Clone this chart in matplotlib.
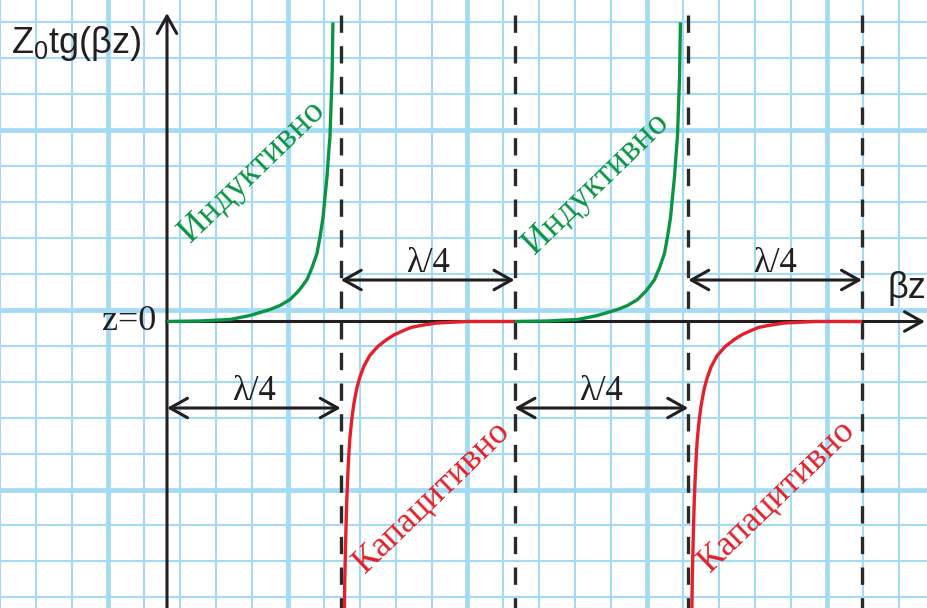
import matplotlib.pyplot as plt

# ---- data: βz in units of λ/4, values in grid cells ----
quarter_marks = [1, 2, 3, 4]          # dashed guide lines at multiples of λ/4
period_starts = [0, 2]                # each period of tg(βz) spans λ/2
ind_t = [0.0, 0.190, 0.363, 0.420, 0.478, 0.535, 0.593, 0.650, 0.708, 0.754, 0.777,
         0.806, 0.835, 0.863, 0.881, 0.898, 0.909, 0.921, 0.929, 0.938, 0.944, 0.950, 0.955]
ind_v = [0.0, 0.014, 0.056, 0.111, 0.167, 0.250, 0.333, 0.444, 0.611, 0.833, 0.972,
         1.167, 1.500, 1.889, 2.361, 2.889, 3.444, 4.028, 4.583, 5.139, 5.972, 6.806, 8.306]
cap_t = [1.0201, 1.0230, 1.0288, 1.0345, 1.0403, 1.0460, 1.0518, 1.0633, 1.0748, 1.0921,
         1.1094, 1.1324, 1.1669, 1.2129, 1.2647, 1.3108, 1.3626, 1.4029, 1.4604, 1.5525,
         1.7252, 2.0]
cap_v = [-8.333, -7.222, -5.972, -5.0, -4.306, -3.75, -3.278, -2.722, -2.306, -1.861,
         -1.556, -1.25, -0.944, -0.694, -0.5, -0.361, -0.25, -0.167, -0.111, -0.042,
         0.0, 0.0]
low_spans = [(0, 1), (2, 3)]
high_spans = [(1, 2), (3, 4)]
span_label = "λ/4"
y_label = "Z$_0$tg(βz)"
x_label = "βz"
origin_label = "z=0"
ind_label = "Индуктивно"
cap_label = "Капацитивно"

# ---- styling ----
W, H = 927, 608
X0, Y0 = 167.0, 321.5        # origin in pixels
UX, UY = 173.75, 36.0        # pixels per λ/4 and per grid cell
INK = "#231f20"
GREEN = "#0b9444"
RED = "#e4202a"
PAPER = "#a3daf4"

plt.rcParams["mathtext.fontset"] = "custom"
plt.rcParams["mathtext.rm"] = "Liberation Sans"
plt.rcParams["mathtext.it"] = "Liberation Sans"

fig = plt.figure(figsize=(W / 100, H / 100), dpi=100)

# graph paper
bg = fig.add_axes([0, 0, 1, 1])
bg.set_xlim(0, W)
bg.set_ylim(H, 0)
bg.axis("off")
step = 35.95
for k in range(-4, 26):
    x = 108 + k * step
    if -6 < x < W + 6:
        bg.axvline(x, color=PAPER, lw=3.4 if k % 5 == 0 else 1.5, zorder=0)
    y = 130 + k * step
    if -6 < y < H + 6:
        bg.axhline(y, color=PAPER, lw=3.4 if k % 5 == 0 else 1.5, zorder=0)

# main drawing axes
ax = fig.add_axes([0, 0, 1, 1])
ax.patch.set_alpha(0)
ax.axis("off")
ax.set_xlim(-X0 / UX, (W - X0) / UX)
ax.set_ylim(-(H - Y0) / UY, Y0 / UY)
ymin, ymax = ax.get_ylim()

head = "head_length=1.25,head_width=0.7"
# axes with arrow heads
ax.annotate("", xy=((925 - X0) / UX, 0), xytext=(0, 0),
            arrowprops=dict(arrowstyle="->," + head, mutation_scale=10, lw=2.2,
                            color=INK, shrinkA=0, shrinkB=0), zorder=2)
ax.annotate("", xy=(0, (Y0 - 13) / UY), xytext=(0, ymin - 0.2),
            arrowprops=dict(arrowstyle="->," + head, mutation_scale=10, lw=2.2,
                            color=INK, shrinkA=0, shrinkB=0), zorder=2)

# dashed guides
top_dash = (Y0 - 15) / UY
for q in quarter_marks:
    ax.plot([q, q], [top_dash, ymin - 0.2], color="#2a2a2a", lw=2.4,
            dashes=(5.2, 4.0), solid_capstyle="butt", dash_capstyle="butt", zorder=3)

# branches of tg(βz)
for p in period_starts:
    ax.plot([p + t for t in ind_t], ind_v, color=GREEN, lw=2.4, zorder=4,
            solid_capstyle="butt", solid_joinstyle="round")
    ax.plot([p + t for t in cap_t], cap_v, color=RED, lw=2.4, zorder=4,
            solid_capstyle="butt", solid_joinstyle="round")

# λ/4 dimension arrows
def dim_arrow(a, b, v):
    ax.annotate("", xy=(b, v), xytext=(a, v),
                arrowprops=dict(arrowstyle="<->," + head, mutation_scale=10, lw=2.2,
                                color=INK, shrinkA=0, shrinkB=0), zorder=3)
    ax.annotate(span_label, xy=((a + b) / 2, v), xytext=(0, 6), textcoords="offset points",
                ha="center", va="baseline", fontsize=25, family="Liberation Serif",
                color=INK, zorder=5)

for a, b in low_spans:
    dim_arrow(a, b, (Y0 - 408) / UY)
for a, b in high_spans:
    dim_arrow(a, b, (Y0 - 280) / UY)

# axis labels
bg.text(11, 53, y_label, fontsize=26, family="Liberation Sans", color=INK,
        ha="left", va="baseline")
bg.text(888, 298, x_label, fontsize=26, family="Liberation Sans", color=INK,
        ha="left", va="baseline")
bg.text(156, Y0, origin_label, fontsize=26, family="Liberation Serif", color=INK,
        ha="right", va="center")

# region labels
for cx, cy in [(252, 172), (596, 184)]:
    bg.text(cx, cy, ind_label, fontsize=26, family="Liberation Serif", color=GREEN,
            rotation=44, rotation_mode="anchor", ha="center", va="center", zorder=5)
for cx, cy in [(432, 498), (777, 497)]:
    bg.text(cx, cy, cap_label, fontsize=26, family="Liberation Serif", color=RED,
            rotation=44, rotation_mode="anchor", ha="center", va="center", zorder=5)

fig.savefig("out.png", dpi=100)
